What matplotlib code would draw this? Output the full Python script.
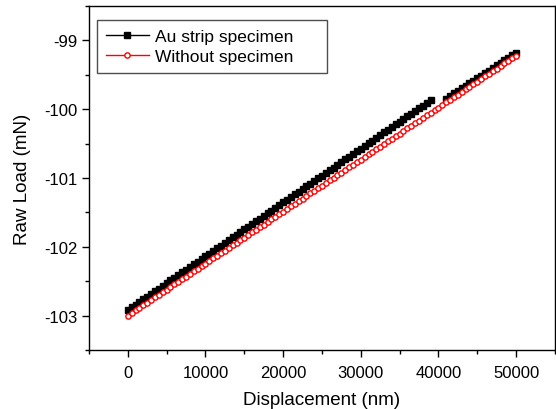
import numpy as np
import matplotlib
matplotlib.use("Agg")
import matplotlib.pyplot as plt
from matplotlib.ticker import MultipleLocator

plt.rcParams['font.family'] = ['Liberation Sans', 'DejaVu Sans']

# Au strip specimen (two segments with a gap)
au_x1 = [0, 500, 1000, 1500, 2000, 2500, 3000, 3500, 4000, 4500, 5000, 5500, 6000, 6500,
         7000, 7500, 8000, 8500, 9000, 9500, 10000, 10500, 11000, 11500, 12000, 12500,
         13000, 13500, 14000, 14500, 15000, 15500, 16000, 16500, 17000, 17500, 18000,
         18500, 19000, 19500, 20000, 20500, 21000, 21500, 22000, 22500, 23000, 23500,
         24000, 24500, 25000, 25500, 26000, 26500, 27000, 27500, 28000, 28500, 29000,
         29500, 30000, 30500, 31000, 31500, 32000, 32500, 33000, 33500, 34000, 34500,
         35000, 35500, 36000, 36500, 37000, 37500, 38000, 38500, 39000]
au_y1 = [-102.920, -102.881, -102.842, -102.803, -102.764, -102.725, -102.685, -102.646,
         -102.607, -102.568, -102.529, -102.490, -102.451, -102.412, -102.373, -102.334,
         -102.294, -102.255, -102.216, -102.177, -102.138, -102.099, -102.060, -102.021,
         -101.982, -101.943, -101.903, -101.864, -101.825, -101.786, -101.747, -101.708,
         -101.669, -101.630, -101.591, -101.552, -101.512, -101.473, -101.434, -101.395,
         -101.356, -101.317, -101.278, -101.239, -101.200, -101.161, -101.121, -101.082,
         -101.043, -101.004, -100.965, -100.926, -100.887, -100.848, -100.809, -100.770,
         -100.730, -100.691, -100.652, -100.613, -100.574, -100.535, -100.496, -100.457,
         -100.418, -100.379, -100.339, -100.300, -100.261, -100.222, -100.183, -100.144,
         -100.105, -100.066, -100.027, -99.988, -99.948, -99.909, -99.870]
au_x2 = [41000, 41500, 42000, 42500, 43000, 43500, 44000, 44500, 45000, 45500,
         46000, 46500, 47000, 47500, 48000, 48500, 49000, 49500, 50000]
au_y2 = [-99.845, -99.808, -99.771, -99.734, -99.697, -99.660, -99.623, -99.586, -99.549,
         -99.513, -99.476, -99.439, -99.402, -99.365, -99.328, -99.291, -99.254, -99.217,
         -99.180]

# Without specimen
wo_x = [0, 500, 1000, 1500, 2000, 2500, 3000, 3500, 4000, 4500, 5000, 5500, 6000, 6500,
        7000, 7500, 8000, 8500, 9000, 9500, 10000, 10500, 11000, 11500, 12000, 12500,
        13000, 13500, 14000, 14500, 15000, 15500, 16000, 16500, 17000, 17500, 18000,
        18500, 19000, 19500, 20000, 20500, 21000, 21500, 22000, 22500, 23000, 23500,
        24000, 24500, 25000, 25500, 26000, 26500, 27000, 27500, 28000, 28500, 29000,
        29500, 30000, 30500, 31000, 31500, 32000, 32500, 33000, 33500, 34000, 34500,
        35000, 35500, 36000, 36500, 37000, 37500, 38000, 38500, 39000, 39500, 40000,
        40500, 41000, 41500, 42000, 42500, 43000, 43500, 44000, 44500, 45000, 45500,
        46000, 46500, 47000, 47500, 48000, 48500, 49000, 49500, 50000]
wo_y = [-103.000, -102.962, -102.924, -102.887, -102.849, -102.811, -102.773, -102.735,
        -102.698, -102.660, -102.622, -102.584, -102.546, -102.509, -102.471, -102.433,
        -102.395, -102.357, -102.320, -102.282, -102.244, -102.206, -102.168, -102.131,
        -102.093, -102.055, -102.017, -101.979, -101.942, -101.904, -101.866, -101.828,
        -101.790, -101.753, -101.715, -101.677, -101.639, -101.601, -101.564, -101.526,
        -101.488, -101.450, -101.412, -101.375, -101.337, -101.299, -101.261, -101.223,
        -101.186, -101.148, -101.110, -101.072, -101.034, -100.997, -100.959, -100.921,
        -100.883, -100.845, -100.808, -100.770, -100.732, -100.694, -100.656, -100.619,
        -100.581, -100.543, -100.505, -100.467, -100.430, -100.392, -100.354, -100.316,
        -100.278, -100.241, -100.203, -100.165, -100.127, -100.089, -100.052, -100.014,
        -99.976, -99.938, -99.900, -99.863, -99.825, -99.787, -99.749, -99.711, -99.674,
        -99.636, -99.598, -99.560, -99.522, -99.485, -99.447, -99.409, -99.371, -99.333,
        -99.296, -99.258, -99.220]

x_ticks = [0, 10000, 20000, 30000, 40000, 50000]
y_ticks = [-103, -102, -101, -100, -99]

fig = plt.figure(figsize=(5.56, 4.10), dpi=100)
ax = fig.add_axes([0.160, 0.144, 0.838, 0.839])

au_x = au_x1 + [np.nan] + au_x2
au_y = au_y1 + [np.nan] + au_y2
ax.plot(au_x, au_y, color='black', lw=1.0, marker='s', ms=4.4,
        mfc='black', mec='black', label='Au strip specimen', zorder=2)
ax.plot(wo_x, wo_y, color='red', lw=1.0, marker='o', ms=3.8,
        mfc='white', mec='red', mew=1.0, label='Without specimen', zorder=3)

ax.set_xlim(-5000, 55000)
ax.set_ylim(-103.5, -98.5)
ax.set_xticks(x_ticks)
ax.set_yticks(y_ticks)
ax.set_xticklabels([str(v) for v in x_ticks])
ax.set_yticklabels([str(v) for v in y_ticks])
ax.xaxis.set_minor_locator(MultipleLocator(5000))
ax.yaxis.set_minor_locator(MultipleLocator(0.5))
ax.tick_params(which='major', direction='out', length=5, width=1, labelsize=12,
               top=False, right=False)
ax.tick_params(axis='x', which='major', pad=6)
ax.tick_params(which='minor', direction='out', length=3, width=1,
               top=False, right=False)
for s in ax.spines.values():
    s.set_linewidth(1.0)

ax.set_xlabel('Displacement (nm)', fontsize=13.5, labelpad=8)
ax.set_ylabel('Raw Load (mN)', fontsize=13.5, labelpad=9)

leg = ax.legend(loc='upper left', bbox_to_anchor=(0.017, 0.5, 0.494, 0.459),
                mode='expand', numpoints=1,
                fontsize=12.5, frameon=True, fancybox=False, handlelength=2.5,
                borderpad=0.5, labelspacing=0.3, handletextpad=0.35,
                borderaxespad=0.0)
leg.get_frame().set_edgecolor('#222222')
leg.get_frame().set_linewidth(1.0)

fig.savefig('out.png', dpi=100)
